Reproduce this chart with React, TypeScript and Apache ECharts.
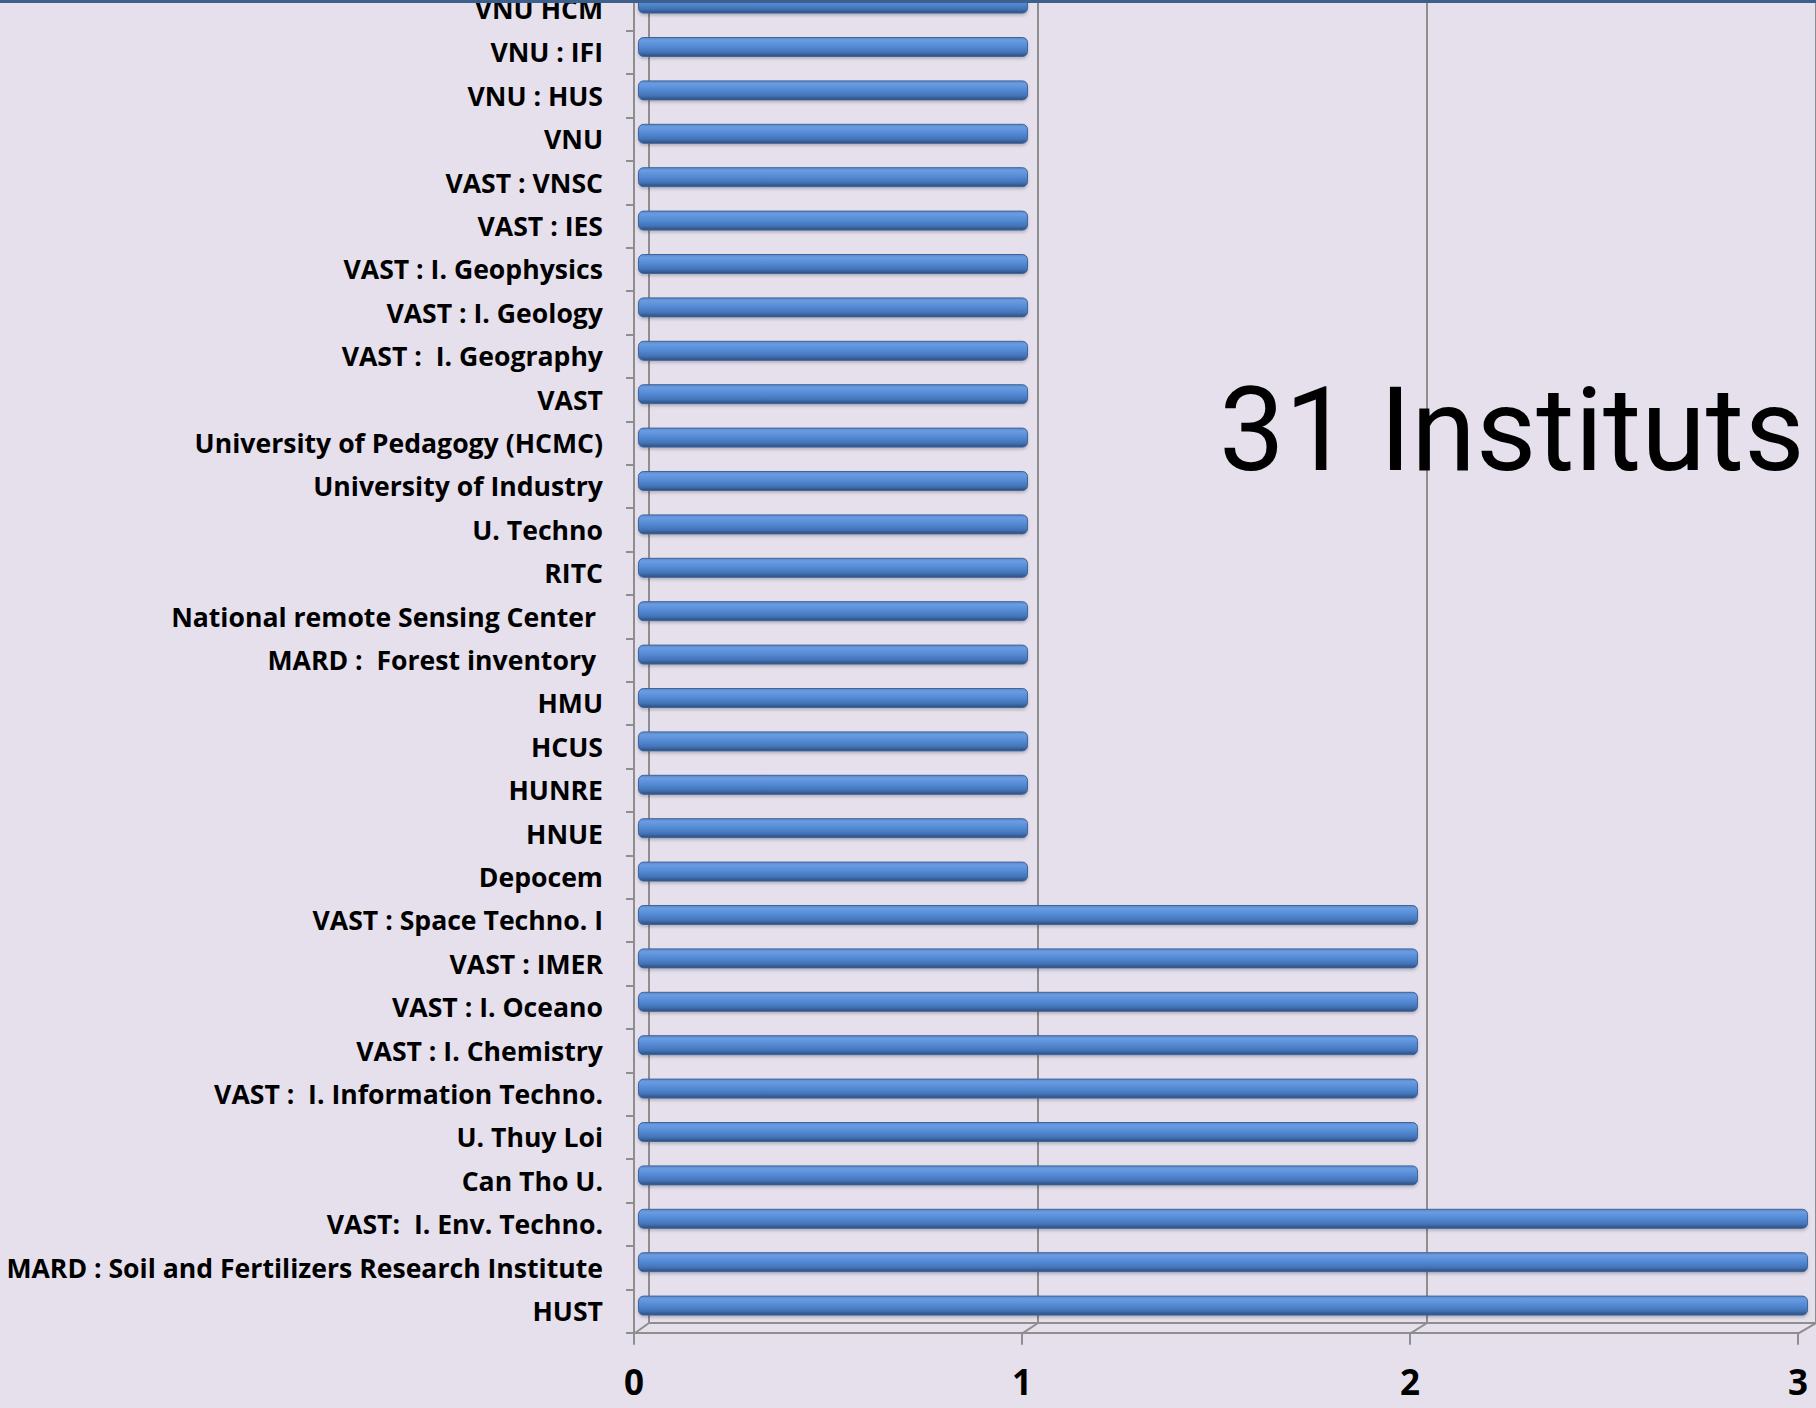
import React, { useEffect, useRef } from "react";
import * as echarts from "echarts";

// categories from bottom to top
const categories: string[] = [
  "HUST",
  "MARD : Soil and Fertilizers Research Institute",
  "VAST:  I. Env. Techno.",
  "Can Tho U.",
  "U. Thuy Loi",
  "VAST :  I. Information Techno.",
  "VAST : I. Chemistry",
  "VAST : I. Oceano",
  "VAST : IMER",
  "VAST : Space Techno. I",
  "Depocem",
  "HNUE",
  "HUNRE",
  "HCUS",
  "HMU",
  "MARD :  Forest inventory ",
  "National remote Sensing Center ",
  "RITC",
  "U. Techno",
  "University of Industry",
  "University of Pedagogy (HCMC)",
  "VAST",
  "VAST :  I. Geography",
  "VAST : I. Geology",
  "VAST : I. Geophysics",
  "VAST : IES",
  "VAST : VNSC",
  "VNU",
  "VNU : HUS",
  "VNU : IFI",
  "VNU HCM",
];

const values: number[] = [
  3, 3, 3, 2, 2, 2, 2, 2, 2, 2, 1, 1, 1, 1, 1, 1, 1, 1, 1, 1, 1, 1, 1, 1, 1, 1, 1, 1, 1, 1, 1,
];

const xTicks: number[] = [0, 1, 2, 3];
const annotation = "31 Instituts";

export default function App() {
  const ref = useRef<HTMLDivElement>(null);
  useEffect(() => {
    document.body.style.margin = "0";
    if (!ref.current) return;
    const chart = echarts.init(ref.current, null, { renderer: "svg" });
    const BAND = 43.4;
    const H = BAND * categories.length;
    const gray = "#8E8E8E";
    const FRONT = { left: 634, top: -12.7, width: 1164, height: H };
    const BAR = { left: 638, top: -18.1, width: 1170, height: H };
    const BACK = { left: 649, top: 0, width: 1167, height: 1323 };

    const diagonals = xTicks.map((t) => ({
      type: "line",
      z: 1,
      shape: {
        x1: BACK.left + (BACK.width / 3) * t,
        y1: BACK.top + BACK.height,
        x2: FRONT.left + (FRONT.width / 3) * t,
        y2: FRONT.top + FRONT.height + 1,
      },
      style: { stroke: gray, lineWidth: 2 },
    }));

    chart.setOption({
      animation: false,
      backgroundColor: "#E5E0EC",
      grid: [
        { ...FRONT, containLabel: false, outerBoundsMode: "none" },
        { ...BAR, containLabel: false, outerBoundsMode: "none" },
        { ...BACK, containLabel: false, outerBoundsMode: "none" },
      ],
      xAxis: [
        {
          gridIndex: 0,
          type: "value",
          min: 0,
          max: 3,
          interval: 1,
          axisLine: { show: true, lineStyle: { color: gray, width: 2 } },
          axisTick: { show: true, length: 12, lineStyle: { color: gray, width: 2 } },
          splitLine: { show: false },
          axisLabel: {
            show: true,
            margin: 34,
            color: "#000",
            fontFamily: "Open Sans",
            fontWeight: "bold",
            fontSize: 35,
            lineHeight: 30,
          },
        },
        {
          gridIndex: 1,
          type: "value",
          min: 0,
          max: 3,
          show: false,
        },
        {
          gridIndex: 2,
          type: "value",
          min: 0,
          max: 3,
          interval: 1,
          axisLine: { show: true, lineStyle: { color: gray, width: 2 } },
          axisTick: { show: false },
          axisLabel: { show: false },
          splitLine: { show: true, lineStyle: { color: gray, width: 2 } },
        },
      ],
      yAxis: [
        {
          gridIndex: 0,
          type: "category",
          data: categories,
          axisLine: { show: true, lineStyle: { color: gray, width: 2 } },
          axisTick: { show: true, length: 8, lineStyle: { color: gray, width: 2 } },
          axisLabel: {
            margin: 31,
            color: "#000",
            fontFamily: "Open Sans",
            fontWeight: "bold",
            fontSize: 26.6,
          },
        },
        {
          gridIndex: 1,
          type: "category",
          data: categories,
          show: false,
        },
        {
          gridIndex: 2,
          type: "value",
          show: false,
        },
      ],
      series: [
        {
          type: "bar",
          xAxisIndex: 1,
          yAxisIndex: 1,
          data: values,
          barWidth: 20,
          z: 3,
          itemStyle: {
            borderRadius: 5,
            borderColor: "#41659A",
            borderWidth: 1,
            shadowColor: "rgba(0,0,0,0.2)",
            shadowBlur: 3,
            shadowOffsetY: 2,
            color: new echarts.graphic.LinearGradient(0, 0, 0, 1, [
              { offset: 0, color: "#5A88C8" },
              { offset: 0.15, color: "#6A9CE2" },
              { offset: 0.5, color: "#5289D3" },
              { offset: 0.78, color: "#4373B6" },
              { offset: 1, color: "#2D4D7E" },
            ]),
          },
        },
      ],
      graphic: [
        ...diagonals,
        {
          type: "rect",
          z: 10,
          shape: { x: 0, y: 0, width: 1816, height: 3 },
          style: { fill: "#3D5F8E" },
        },
        {
          type: "text",
          z: 10,
          x: 1219,
          y: 430,
          style: {
            text: annotation,
            fill: "#000",
            fontFamily: "Roboto",
            fontSize: 117,
            fontWeight: "normal",
            verticalAlign: "middle",
          },
        },
      ],
    });
    return () => chart.dispose();
  }, []);
  return <div ref={ref} style={{ width: 1816, height: 1408 }} />;
}
